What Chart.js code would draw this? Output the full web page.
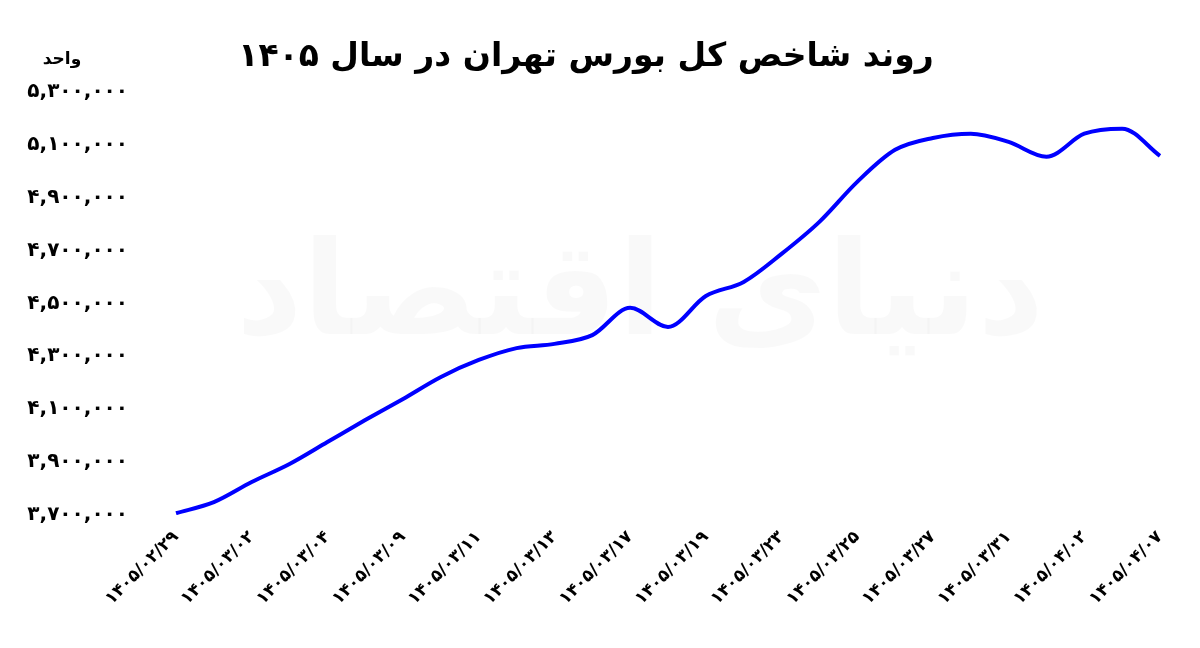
<!DOCTYPE html>
<html>
<head>
<meta charset="utf-8">
<script src="https://cdn.jsdelivr.net/npm/chart.js@4"></script>
<style>
  html, body { margin: 0; padding: 0; background: #fff; }
  #wrap { width: 1200px; height: 648px; position: relative; }
</style>
</head>
<body>
<div id="wrap"><canvas id="chart"></canvas></div>
<script>
// Tehran stock exchange total index, 1405
const dates = [
  '1405/02/29', '1405/03/01', '1405/03/02', '1405/03/03', '1405/03/04', '1405/03/06',
  '1405/03/09', '1405/03/10', '1405/03/11', '1405/03/12', '1405/03/13', '1405/03/16',
  '1405/03/17', '1405/03/18', '1405/03/19', '1405/03/20', '1405/03/23', '1405/03/24',
  '1405/03/25', '1405/03/26', '1405/03/27', '1405/03/30', '1405/03/31', '1405/04/01',
  '1405/04/02', '1405/04/03', '1405/04/07'
];
const indexValues = [
  3707000, 3749000, 3825000, 3893000, 3976000, 4059000,
  4139000, 4222000, 4286000, 4331000, 4347000, 4380000,
  4483000, 4411000, 4528000, 4581000, 4687000, 4808000,
  4959000, 5080000, 5125000, 5141000, 5110000, 5054000,
  5141000, 5160000, 5057000
];
const yMin = 3700000, yMax = 5300000, yStep = 200000;

const FA = '۰۱۲۳۴۵۶۷۸۹';
const faDigits = s => String(s).replace(/[0-9]/g, d => FA[d]);
const faNumber = n => faDigits(Math.round(n).toString().replace(/\B(?=(\d{3})+(?!\d))/g, ','));

const FONT = '"DejaVu Sans", "Noto Sans", sans-serif';

// unit label + faint watermark
const extras = {
  id: 'extras',
  beforeDraw(chart) {
    const c = chart.ctx;
    c.save();
    c.fillStyle = 'rgba(0,0,0,0.025)';
    c.font = 'bold 130px ' + FONT;
    c.textAlign = 'center';
    c.textBaseline = 'middle';
    c.fillText('دنیای اقتصاد', 640, 300);
    c.restore();
  },
  afterDraw(chart) {
    const c = chart.ctx;
    c.save();
    c.fillStyle = '#000';
    c.font = 'bold 17px ' + FONT;
    c.textAlign = 'center';
    c.textBaseline = 'middle';
    c.fillText('واحد', 62, 60);
    c.restore();
  }
};

new Chart(document.getElementById('chart'), {
  type: 'line',
  data: {
    labels: dates,
    datasets: [{
      data: indexValues,
      borderColor: '#0000ff',
      borderWidth: 4,
      pointRadius: 0,
      tension: 0.4,
      cubicInterpolationMode: 'monotone',
      fill: false
    }]
  },
  options: {
    responsive: true,
    maintainAspectRatio: false,
    animation: false,
    layout: { padding: { left: 12, right: 40, top: 10, bottom: 27 } },
    plugins: {
      legend: { display: false },
      tooltip: { enabled: false },
      title: {
        display: true,
        text: 'روند شاخص کل بورس تهران در سال ۱۴۰۵',
        color: '#000',
        font: { family: FONT, size: 33, weight: 'bold' },
        padding: { top: 28, bottom: 14 }
      }
    },
    scales: {
      x: {
        grid: { display: false, drawTicks: false },
        border: { display: false },
        ticks: {
          autoSkip: false,
          maxRotation: 45,
          minRotation: 45,
          padding: 12,
          color: '#000',
          font: { family: FONT, size: 17, weight: 'bold' },
          callback: (v, i) => i % 2 === 0 ? faDigits(dates[i]) : ''
        }
      },
      y: {
        min: yMin,
        max: yMax,
        afterFit: s => { s.width = 164; },
        grid: { display: false, drawTicks: false },
        border: { display: false },
        ticks: {
          stepSize: yStep,
          padding: 48,
          color: '#000',
          font: { family: FONT, size: 20, weight: 'bold' },
          callback: v => faNumber(v)
        }
      }
    }
  },
  plugins: [extras]
});
</script>
</body>
</html>
